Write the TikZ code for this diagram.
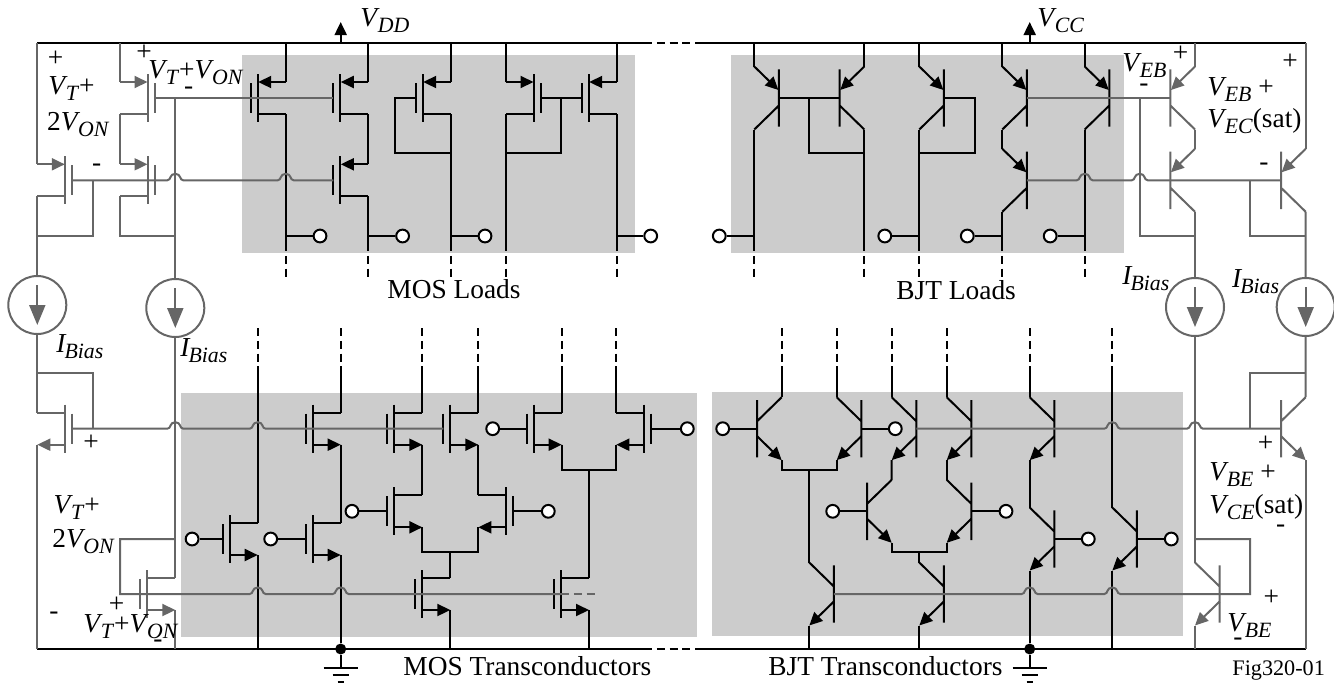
\documentclass[tikz,border=0pt]{standalone}
\usepackage{fontspec}
\setmainfont{Liberation Serif}
\usetikzlibrary{arrows.meta,calc}

\definecolor{wiregray}{HTML}{666666}
\definecolor{panelgray}{HTML}{CCCCCC}

\tikzset{
  wire/.style={line width=1pt,color=black},
  gwire/.style={line width=1pt,color=wiregray},
  rail/.style={line width=1.2pt,color=black},
  stub/.style={dash pattern=on 4pt off 2.4pt},
  panel/.style={fill=panelgray,draw=none},
  term/.style={draw,circle,fill=white,line width=1pt,inner sep=0pt,minimum size=6.4pt},
  blob/.style={circle,fill=black,inner sep=0pt,minimum size=5.5pt},
  isrc/.style={draw=wiregray,circle,line width=1pt,inner sep=0pt,minimum size=29pt},
  lab/.style={anchor=base west,inner sep=0pt,font=\lfont},
  sign/.style={inner sep=0pt,font=\lfont},
  tip/.style={-{Triangle[length=6.5pt,width=6pt]}},
  bigtip/.style={-{Triangle[length=10pt,width=8pt]}}
}

\newcommand{\lfont}{\fontsize{13.7}{16}\selectfont}
\newcommand{\vsub}[2]{\textit{#1}\kern-1pt\raisebox{-3pt}{\fontsize{10.9}{12}\selectfont\textit{#2}}}
% wire hop over a vertical line
\newcommand{\hop}[2]{-- ({#1-8},#2) .. controls ({#1-4},#2) and ({#1-6},{#2-6.5}) .. (#1,{#2-6.5}) .. controls ({#1+6},{#2-6.5}) and ({#1+4},#2) .. ({#1+8},#2)}

% [style]{name}{x}{y}{side}
\newcommand{\pmos}[5][wire]{%
  \begin{scope}[#1,shift={(#3,#4)},xscale=#5]
    \draw (0,-24) -- (0,24) (-7,-15) -- (-7,15) (0,16) -- (28,16);
    \draw[tip] (28,-16) -- (.5,-16);
    \coordinate (#2-g) at (-7,0);
    \coordinate (#2-t) at (28,-16);
    \coordinate (#2-b) at (28,16);
  \end{scope}}
\newcommand{\nmos}[5][wire]{%
  \begin{scope}[#1,shift={(#3,#4)},xscale=#5]
    \draw (0,-24) -- (0,24) (-7,-15) -- (-7,15) (0,-16) -- (28,-16);
    \draw[tip] (0,16) -- (28,16);
    \coordinate (#2-g) at (-7,0);
    \coordinate (#2-t) at (28,-16);
    \coordinate (#2-b) at (28,16);
  \end{scope}}
\newcommand{\pnp}[5][wire]{%
  \begin{scope}[#1,shift={(#3,#4)},xscale=#5]
    \draw (0,-28.7) -- (0,28.7) (0,7.5) -- (24.6,31.5);
    \draw[tip] (24.6,-31.5) -- (.5,-8);
    \coordinate (#2-g) at (0,0);
    \coordinate (#2-t) at (24.6,-31.5);
    \coordinate (#2-b) at (24.6,31.5);
  \end{scope}}
\newcommand{\npn}[5][wire]{%
  \begin{scope}[#1,shift={(#3,#4)},xscale=#5]
    \draw (0,-28.7) -- (0,28.7) (0,-7.5) -- (24.6,-31.5);
    \draw[tip] (0,7.5) -- (24.6,31.5);
    \coordinate (#2-g) at (0,0);
    \coordinate (#2-t) at (24.6,-31.5);
    \coordinate (#2-b) at (24.6,31.5);
  \end{scope}}
% input terminal on a gate or base
\newcommand{\tapin}[2]{%
  \path (#1-g) ++(#2,0) node[term] (#1-in) {};
  \draw[wire] (#1-in) -- (#1-g);}

\begin{document}
\begin{tikzpicture}[x=.5pt,y=-.5pt]
\useasboundingbox (0,0) rectangle (1334,682);

% panels
\path[panel] (242,55) rectangle (635,253);
\path[panel] (731,55) rectangle (1124,253);
\path[panel] (181,393) rectangle (697,637);
\path[panel] (712,392) rectangle (1183,636);

% levels
\coordinate (top) at (0,43);
\coordinate (bot) at (0,649);
\coordinate (tap) at (0,236);
\coordinate (loop) at (0,153);
\coordinate (lostub) at (0,243);
\coordinate (loend) at (0,281);
\coordinate (histub) at (0,328);
\coordinate (hibot) at (0,373);
\coordinate (tail1) at (0,470);
\coordinate (tail2) at (0,552);

% MOS loads
\pmos{p1}{257.7}{98}{1}
\pmos{p2}{340.3}{98}{1}
\pmos{p3}{340.3}{180.3}{1}
\pmos{p4}{422.7}{98}{1}
\pmos{p5}{534}{98}{-1}
\pmos{p6}{588.7}{98}{1}

% BJT loads
\pnp{q1}{778.9}{98}{-1}
\pnp{q2}{839.7}{98}{1}
\pnp{q3}{943.9}{98}{-1}
\pnp{q4}{1026.9}{98}{-1}
\pnp{q5}{1026.9}{180.3}{-1}
\pnp{q6}{1109.3}{98}{-1}

% MOS transconductors
\nmos{n1}{229.7}{539}{1}
\nmos{n2}{312.7}{539}{1}
\nmos{n3}{312.7}{428.7}{1}
\nmos{n4}{394.3}{428.7}{1}
\nmos{n5}{394.3}{511.3}{1}
\nmos{n6}{450.3}{428.7}{1}
\nmos{n7}{506.3}{511.3}{-1}
\nmos{n8}{422.3}{594}{1}
\nmos{n9}{561}{594}{1}
\nmos{n10}{533.7}{428.7}{1}
\nmos{n11}{644.3}{428.7}{-1}

% BJT transconductors
\npn{t1}{757.1}{428.7}{1}
\npn{t2}{861.3}{428.7}{-1}
\npn{t3}{916.3}{428.7}{-1}
\npn{t4}{971.3}{428.7}{-1}
\npn{t5}{867.1}{511.3}{1}
\npn{t6}{971.3}{511.3}{-1}
\npn{t8}{833.9}{594}{-1}
\npn{t9}{943.9}{594}{-1}
\npn{t10}{1054.3}{428.7}{-1}
\npn{t11}{1054.3}{539}{-1}
\npn{t12}{1136.9}{539}{-1}

% biasing, left
\pmos[gwire]{g1}{65.3}{180.3}{-1}
\pmos[gwire]{g2}{148}{98}{-1}
\pmos[gwire]{g3}{148}{180.3}{-1}
\nmos[gwire]{g4}{65.3}{428.7}{-1}
\nmos[gwire]{g5}{147.3}{594}{1}

% biasing, right
\pnp[gwire]{q7}{1170.4}{98}{1}
\pnp[gwire]{q8}{1170.4}{180.3}{1}
\pnp[gwire]{q9}{1281.1}{180.3}{1}
\npn[gwire]{q13}{1281.1}{428.7}{1}
\npn[gwire]{q14}{1219.6}{594}{-1}

% current sources
\node[isrc] (ib1) at (37.3,305) {};
\node[isrc] (ib2) at (175.3,308) {};
\node[isrc] (ib3) at (1195,307) {};
\node[isrc] (ib4) at (1305.7,307) {};
\foreach \n in {ib1,ib2,ib3,ib4}
  \draw[gwire,bigtip] (\n) ++(0,-20) -- ++(0,40);

% supply rails
\draw[rail] (37.3,43) -- (644,43) (698,43) -- (1305.7,43);
\draw[rail,stub] (644,43) -- (698,43);
\draw[rail] (37.3,649) -- (644,649) (698,649) -- (1305.7,649);
\draw[rail,stub] (644,649) -- (698,649);

% rail feeds
\foreach \n in {p1,p2,p4,p5,p6,q1,q2,q3,q4,q6}
  \draw[wire] (\n-t) -- (\n-t |- top);
\foreach \n in {p1,p3,p4,p5,p6,q1,q2,q3,q5,q6}{
  \draw[wire] (\n-b) -- (\n-b |- lostub);
  \draw[wire,stub] (\n-b |- lostub) -- (\n-b |- loend);
}
\foreach \n/\o in {p1/34.3,p3/34.3,p4/34.3,p6/34,q1/-35,q3/-34.5,q5/-35,q6/-34.5}{
  \path (\n-b |- tap) ++(\o,0) node[term] (\n-out) {};
  \draw[wire] (\n-out) -- (\n-b |- tap);
}
\draw[wire] (p2-b) -- (p3-t);
\draw[wire] (q4-b) -- (q5-t);

% diode ties in the loads
\coordinate (p4x) at ($(p4-g)+(-21,0)$);
\draw[wire] (p4-g) -- (p4x) |- (p4-b |- loop);
\draw[wire] (p5-g) -- (p6-g);
\coordinate (p56) at ($(p5-g)!.5!(p6-g)$);
\draw[wire] (p56) |- (p5-b |- loop);
\draw[wire] (q1-g) -- (q2-g);
\coordinate (q12) at ($(q1-g)!.5!(q2-g)$);
\draw[wire] (q12) |- (q2-b |- loop);
\coordinate (q3x) at ($(q3-g)+(31,0)$);
\draw[wire] (q3-g) -- (q3x) |- (q3-b |- loop);

% MOS transconductor wiring
\foreach \n in {n1,n3,n4,n6,n10,n11,t1,t2,t3,t4,t10,t12}{
  \draw[wire] (\n-t) -- (\n-t |- hibot);
  \draw[wire,stub] (\n-t |- histub) -- (\n-t |- hibot);
}
\foreach \n in {n1,n8,n9,t8,t9,t12}
  \draw[wire] (\n-b) -- (\n-b |- bot);
\draw[wire] (n3-b) -- (n2-t);
\draw[wire] (n4-b) -- (n5-t);
\draw[wire] (n6-b) -- (n7-t);
\draw[wire] (n5-b) |- (n7-b |- tail2) -- (n7-b);
\draw[wire] (n8-t |- tail2) -- (n8-t);
\draw[wire] (n10-b) |- (n11-b |- tail1) -- (n11-b);
\draw[wire] (n9-t) -- (n9-t |- tail1);

% BJT transconductor wiring
\draw[wire] (t1-b) |- (t2-b |- tail1) -- (t2-b);
\draw[wire] (t8-t |- tail1) -- (t8-t);
\draw[wire] (t3-b) -- (t5-t);
\draw[wire] (t4-b) -- (t6-t);
\draw[wire] (t5-b) |- (t6-b |- tail2) -- (t6-b);
\draw[wire] (t9-t |- tail2) -- (t9-t);
\draw[wire] (t10-b) -- (t11-t);

% input terminals
\foreach \n/\o in {n1/-30.6,n2/-35,n5/-35.3,n7/35,n10/-34,n11/36,t1/-34.4,t2/34,t5/-34.4,t6/34.7,t11/34,t12/34.4}{
  \tapin{\n}{\o}
}

% grounds
\node[blob] (gnd1) at (n2-b |- bot) {};
\node[blob] (gnd2) at (t11-b |- bot) {};
\draw[wire] (n2-b) -- (gnd1);
\draw[wire] (t11-b) -- (gnd2);
\foreach \n in {gnd1,gnd2}{
  \draw[wire] (\n) -- ++(0,18.7) coordinate (\n-e);
  \draw[wire] (\n-e) ++(-17,0) -- ++(34,0);
  \draw[wire] (\n-e) ++(-8,7.5) -- ++(16,0);
  \draw[wire] (\n-e) ++(-3,14) -- ++(6,0);
}

% supply arrows
\coordinate (vdd) at (340.7,22);
\coordinate (vcc) at (1029.7,22);
\draw[wire,tip] (vdd |- top) -- (vdd);
\draw[wire,tip] (vcc |- top) -- (vcc);

% bias wiring, left
\draw[gwire] (37.3,43) -- (g1-t);
\draw[gwire] (120,43) -- (g2-t);
\draw[gwire] (g2-b) -- (g3-t);
\draw[gwire] (g2-g) -- (p2-g);
\draw[gwire] (g1-g) \hop{175.3}{180.3} \hop{285.7}{180.3} -- (p3-g);
\draw[gwire] (g1-b) -- (ib1);
\draw[gwire] (g1-b |- tap) -| (92.7,180.3);
\draw[gwire] (g3-b) |- (175.3,236);
\draw[gwire] (175.3,98) -- (ib2);
\draw[gwire] (ib1) -- (g4-t);
\draw[gwire] (g4-t |- hibot) -| (92.7,428.7);
\draw[gwire] (g4-b) -- (g4-b |- bot);
\draw[gwire] (g4-g) \hop{175.3}{428.7} \hop{257.7}{428.7} -- (n6-g);
\draw[gwire] (ib2) -- (g5-t);
\draw[gwire] (g5-b) -- (g5-b |- bot);
\draw[gwire] (175.3,539) -| (120,594) -- (g5-g) \hop{257.7}{594} \hop{340.7}{594} -- (n8-g) -- (n9-g) -- (561,594);
\draw[gwire,stub] (561,594) -- (598,594);

% bias wiring, right
\draw[gwire] (q7-t) -- (q7-t |- top);
\draw[gwire] (q7-b) -- (q8-t);
\draw[gwire] (q9-t) -- (q9-t |- top);
\draw[gwire] (q4-g) -- (q7-g);
\draw[gwire] (1139.7,98) |- (q8-b |- tap);
\draw[gwire] (q5-g) \hop{1084.7}{180.3} \hop{1139.7}{180.3} -- (q9-g);
\draw[gwire] (q8-b) -- (ib3);
\draw[gwire] (q9-b) -- (ib4);
\draw[gwire] (1250,180.3) |- (q9-b |- tap);
\draw[gwire] (ib4) -- (q13-t);
\draw[gwire] (q13-t |- hibot) -| (1250,428.7);
\draw[gwire] (t3-g) \hop{1112.3}{428.7} \hop{1195}{428.7} -- (q13-g);
\draw[gwire] (q13-b) -- (q13-b |- bot);
\draw[gwire] (ib3) -- (q14-t);
\draw[gwire] (q14-b) -- (q14-b |- bot);
\draw[gwire] (t8-g) \hop{1029.7}{594} \hop{1112.3}{594} -- (q14-g) -| (1250,539) -- (1195,539);

% labels
\node[lab] (vddlab) at (360,26) {\vsub{V}{DD}};
\node[lab] (vcclab) at (1037,26) {\vsub{V}{CC}};
\node[lab] (mosload) at (387,298) {MOS Loads};
\node[lab] (bjtload) at (896,299) {BJT Loads};
\node[lab] (mostran) at (403,675) {MOS Transconductors};
\node[lab] (bjttran) at (768,675) {BJT Transconductors};
\node[lab,font=\fontsize{11.1}{13}\selectfont] (figlab) at (1232,675) {Fig320-01};
\node[lab] (vt1) at (48,94) {\vsub{V}{T}+};
\node[lab] (von1) at (46.7,130) {2\vsub{V}{ON}};
\node[lab] (vt2) at (148,78) {\vsub{V}{T}+\vsub{V}{ON}};
\node[lab] (vt3) at (53.3,513) {\vsub{V}{T}+};
\node[lab] (von3) at (52,547) {2\vsub{V}{ON}};
\node[lab] (vt4) at (83,632.7) {\vsub{V}{T}+\vsub{V}{ON}};
\node[lab] (ibl1) at (56,352) {\vsub{I}{Bias}};
\node[lab] (ibl2) at (180,356) {\vsub{I}{Bias}};
\node[lab] (ibl3) at (1122,284) {\vsub{I}{Bias}};
\node[lab] (ibl4) at (1231.7,287) {\vsub{I}{Bias}};
\node[lab] (veb1) at (1122,71.7) {\vsub{V}{EB}};
\node[lab] (veb2) at (1207,95) {\vsub{V}{EB} +};
\node[lab] (vec) at (1207,127) {\vsub{V}{EC}(sat)};
\node[lab] (vbe1) at (1209,480) {\vsub{V}{BE} +};
\node[lab] (vce) at (1209,513) {\vsub{V}{CE}(sat)};
\node[lab] (vbe2) at (1227,631.7) {\vsub{V}{BE}};

% polarity marks
\foreach \x/\y [count=\i] in {55.7/59,144/52.7,91/443,116.7/605,1180.7/54,1290/62,1265.7/444,1271.3/598}
  \node[sign] (plus\i) at (\x,\y) {+};
\foreach \x/\y [count=\i] in {188.7/90.7,96.7/168,54/616,158/644,1144/88,1264/167,1280.7/529,1238/642}
  \node[sign] (minus\i) at (\x,\y) {-};

\end{tikzpicture}
\end{document}
